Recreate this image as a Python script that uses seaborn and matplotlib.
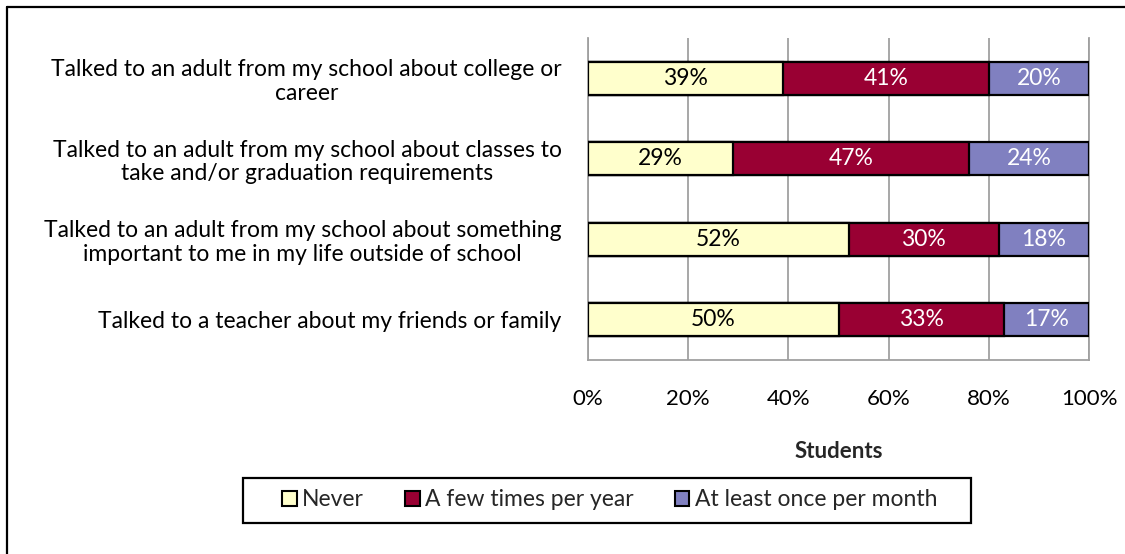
import matplotlib
matplotlib.use("Agg")
import matplotlib.pyplot as plt
import matplotlib.patches as mpatches
import seaborn as sns
import pandas as pd
import numpy as np

# ---- data ----
categories = [
    "Talked to an adult from my school about college or\ncareer",
    "Talked to an adult from my school about classes to\ntake and/or graduation requirements",
    "Talked to an adult from my school about something\nimportant to me in my life outside of school",
    "Talked to a teacher about my friends or family",
]
series_names = ["Never", "A few times per year", "At least once per month"]
never = [39, 29, 52, 50]
few_times = [41, 47, 30, 33]
monthly = [20, 24, 18, 17]
x_ticks = [0, 20, 40, 60, 80, 100]
x_tick_labels = ["0%", "20%", "40%", "60%", "80%", "100%"]
colors = ["#FFFFCC", "#990033", "#8080C0"]
text_colors = ["black", "white", "white"]

sns.set_theme(style="white")
plt.rcParams["font.family"] = ["Lato", "DejaVu Sans"]

FS = 16.5
W, H = 1125, 554

fig = plt.figure(figsize=(11.25, 5.54), dpi=100)
ax = fig.add_axes([588 / W, 1 - 360 / H, 501 / W, 322 / H])

values = [never, few_times, monthly]
cum = np.cumsum(np.array(values, dtype=float), axis=0)
df = pd.DataFrame({"category": categories})
for i, name in enumerate(series_names):
    df[name] = cum[i]

for i in reversed(range(len(series_names))):
    sns.barplot(data=df, y="category", x=series_names[i], orient="h",
                color=colors[i], saturation=1, width=0.41,
                edgecolor="black", linewidth=1.6, ax=ax, zorder=3)

# segment labels
for i in range(len(series_names)):
    for j, v in enumerate(values[i]):
        ax.text(cum[i][j] - v / 2, j, f"{v}%", ha="center", va="center",
                color=text_colors[i], fontsize=FS, zorder=5)

ax.set_xlim(0, 100)
ax.set_ylim(3.5, -0.5)
ax.set_xticks(x_ticks)
ax.set_xticklabels(x_tick_labels, fontsize=16)
ax.grid(axis="x", color="#A0A0A0", linewidth=1.3, zorder=0)
ax.grid(axis="y", visible=False)

ax.spines["top"].set_visible(False)
for s in ["left", "bottom", "right"]:
    ax.spines[s].set_color("#A0A0A0")
    ax.spines[s].set_linewidth(1.3)

ax.set_yticks(range(len(categories)))
ax.set_yticklabels(categories, fontsize=FS, ha="right", multialignment="center",
                   linespacing=1.15)
ax.set_yticks(np.arange(-0.5, len(categories), 1.0), minor=True)
ax.tick_params(axis="y", which="major", length=0, pad=19, labelcolor="black")
ax.tick_params(axis="y", which="minor", length=5, width=1.3, color="#A0A0A0", direction="out")
ax.tick_params(axis="x", which="major", length=5, width=1.3, color="#A0A0A0",
               direction="out", pad=16, labelcolor="black")

ax.set_ylabel("")
ax.set_xlabel("Students", fontsize=16, fontweight="bold")
ax.xaxis.set_label_coords(0.5, (360 - 452) / 322)
ax.xaxis.label.set_va("center")

handles = [mpatches.Patch(facecolor=c, edgecolor="black", linewidth=1.5) for c in colors]
leg = fig.legend(handles, series_names, loc="center", ncol=3,
                 bbox_to_anchor=(610 / W, 1 - 500 / H), fontsize=FS,
                 frameon=False,
                 handlelength=0.62, handleheight=0.62, handletextpad=0.25,
                 columnspacing=1.8, borderpad=0.3, borderaxespad=0)

# legend box outline
fig.add_artist(mpatches.Rectangle((243 / W, 1 - 523 / H), (971 - 243) / W, 45 / H,
                                  transform=fig.transFigure, facecolor="none",
                                  edgecolor="black", linewidth=1.6))

# outer chart frame (top and left visible)
fig.add_artist(plt.Line2D([7 / W, 7 / W], [0, 1 - 7 / H], color="black",
                          linewidth=1.6, transform=fig.transFigure))
fig.add_artist(plt.Line2D([7 / W, 1], [1 - 7 / H, 1 - 7 / H], color="black",
                          linewidth=1.6, transform=fig.transFigure))

fig.savefig("out.png", dpi=100, facecolor="white")
